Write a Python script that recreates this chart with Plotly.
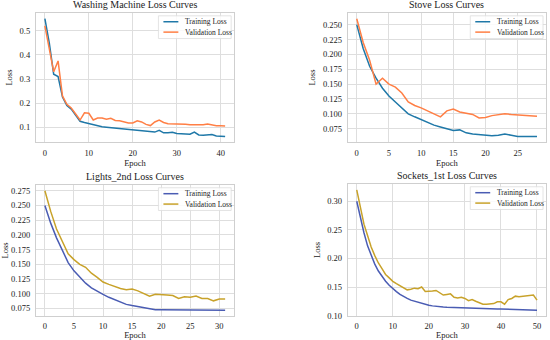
import plotly.graph_objects as go

# ---------------- data ----------------
wm_train = [0.55, 0.45, 0.32, 0.31, 0.225, 0.19, 0.175, 0.15, 0.125, 0.12, 0.115, 0.11, 0.105, 0.102,
            0.10, 0.098, 0.096, 0.094, 0.092, 0.09, 0.088, 0.087, 0.085, 0.083, 0.081, 0.08, 0.087,
            0.077, 0.077, 0.079, 0.074, 0.073, 0.072, 0.071, 0.08, 0.068, 0.067, 0.067, 0.07, 0.064,
            0.063, 0.062]
wm_val = [0.52, 0.43, 0.33, 0.375, 0.23, 0.195, 0.18, 0.155, 0.13, 0.16, 0.158, 0.13, 0.138, 0.138,
          0.133, 0.137, 0.128, 0.127, 0.122, 0.118, 0.118, 0.127, 0.122, 0.112, 0.107, 0.122, 0.13,
          0.12, 0.115, 0.115, 0.115, 0.114, 0.112, 0.11, 0.11, 0.109, 0.11, 0.113, 0.108, 0.106,
          0.106, 0.105]

st_train = [0.25, 0.21, 0.18, 0.16, 0.143, 0.13, 0.12, 0.11, 0.10, 0.095, 0.09, 0.085, 0.081, 0.078,
            0.075, 0.072, 0.073, 0.068, 0.066, 0.065, 0.064, 0.063, 0.064, 0.066, 0.064, 0.062,
            0.062, 0.062, 0.062]
st_val = [0.26, 0.22, 0.19, 0.15, 0.16, 0.15, 0.145, 0.135, 0.12, 0.114, 0.11, 0.105, 0.1, 0.095,
          0.105, 0.108, 0.103, 0.101, 0.099, 0.093, 0.094, 0.097, 0.098, 0.1, 0.099, 0.098, 0.097,
          0.096, 0.096]

li_train = [0.25, 0.22, 0.195, 0.173, 0.153, 0.139, 0.128, 0.118, 0.11, 0.104, 0.099, 0.094, 0.09,
            0.086, 0.082, 0.08, 0.078, 0.076, 0.074, 0.073, 0.073, 0.073, 0.0725, 0.0725, 0.0723,
            0.0722, 0.0721, 0.072, 0.072, 0.072, 0.072, 0.072]
li_val = [0.275, 0.24, 0.21, 0.19, 0.168, 0.158, 0.15, 0.145, 0.135, 0.128, 0.12, 0.116, 0.112,
          0.109, 0.107, 0.108, 0.105, 0.1, 0.096, 0.099, 0.099, 0.098, 0.097, 0.092, 0.095, 0.094,
          0.096, 0.092, 0.092, 0.088, 0.091, 0.091]

so_train = [0.30, 0.27, 0.245, 0.222, 0.205, 0.19, 0.178, 0.168, 0.16, 0.153, 0.147, 0.142, 0.137,
            0.133, 0.13, 0.127, 0.125, 0.123, 0.121, 0.12, 0.118, 0.117, 0.116, 0.1155, 0.115,
            0.1145, 0.1142, 0.114, 0.1138, 0.1136, 0.1134, 0.1132, 0.113, 0.1128, 0.1126, 0.1124,
            0.1122, 0.112, 0.1118, 0.1116, 0.1114, 0.1112, 0.111, 0.1108, 0.1106, 0.1104, 0.1102,
            0.11, 0.1098, 0.1096, 0.1094]
so_val = [0.32, 0.29, 0.26, 0.24, 0.22, 0.205, 0.192, 0.182, 0.172, 0.166, 0.16, 0.156, 0.152,
          0.148, 0.145, 0.146, 0.148, 0.147, 0.15, 0.142, 0.142, 0.143, 0.144, 0.14, 0.136, 0.137,
          0.138, 0.132, 0.131, 0.132, 0.13, 0.126, 0.128, 0.125, 0.122, 0.12, 0.12, 0.12, 0.121,
          0.124, 0.124, 0.12, 0.128, 0.13, 0.134, 0.133, 0.134, 0.134, 0.135, 0.136, 0.127]

titles = ["Washing Machine Loss Curves", "Stove Loss Curves",
          "Lights_2nd Loss Curves", "Sockets_1st Loss Curves"]
series_names = ["Training Loss", "Validation Loss"]

# ---------------- layout ----------------
FONT = "Liberation Serif, Times New Roman, serif"
W, H = 550, 340
panels = [
    dict(tr=wm_train, va=wm_val, colors=["#1f78a8", "#ff7f45"], px=(34, 233), py=(13, 144),
         xt=[0, 10, 20, 30, 40], yt=[0.1, 0.2, 0.3, 0.4, 0.5], yfmt=".1f"),
    dict(tr=st_train, va=st_val, colors=["#1f78a8", "#ff7f45"], px=(347, 546), py=(13, 144),
         xt=[0, 5, 10, 15, 20, 25], yt=[0.075, 0.1, 0.125, 0.15, 0.175, 0.2, 0.225, 0.25], yfmt=".3f"),
    dict(tr=li_train, va=li_val, colors=["#4a5cb3", "#c8a22a"], px=(34, 233), py=(187, 320),
         xt=[0, 5, 10, 15, 20, 25, 30], yt=[0.075, 0.1, 0.125, 0.15, 0.175, 0.2, 0.225, 0.25, 0.275], yfmt=".3f"),
    dict(tr=so_train, va=so_val, colors=["#4a5cb3", "#c8a22a"], px=(347, 546), py=(186, 320),
         xt=[0, 10, 20, 30, 40, 50], yt=[0.1, 0.15, 0.2, 0.25, 0.3], yfmt=".2f"),
]

fig = go.Figure()
layout = dict(width=W, height=H, margin=dict(l=0, r=0, t=0, b=0),
              paper_bgcolor="white", plot_bgcolor="white",
              font=dict(family=FONT, color="#222222", size=8), showlegend=False)
annotations = []

for i, p in enumerate(panels):
    k = "" if i == 0 else str(i + 1)
    xa, ya = "x" + k, "y" + k
    n = len(p["tr"])
    epochs = list(range(n))
    for s, (vals, name) in enumerate(zip([p["tr"], p["va"]], series_names)):
        fig.add_trace(go.Scatter(x=epochs, y=vals, mode="lines", name=name,
                                 line=dict(color=p["colors"][s], width=1.5),
                                 xaxis=xa, yaxis=ya, showlegend=False))
    allv = p["tr"] + p["va"]
    lo, hi = min(allv), max(allv)
    pad = (hi - lo) * 0.05
    xpad = (n - 1) * 0.05
    xd = [p["px"][0] / W, p["px"][1] / W]
    yd = [1 - p["py"][1] / H, 1 - p["py"][0] / H]
    axcommon = dict(showgrid=True, gridcolor="#dedede", gridwidth=1, showline=True,
                    linecolor="#cfcfcf", linewidth=1, mirror=True, zeroline=False,
                    ticks="", tickfont=dict(size=8.5, family=FONT, color="#222222"))
    layout["xaxis" + k] = dict(domain=xd, range=[-xpad, n - 1 + xpad], tickvals=p["xt"],
                               anchor=ya, ticklabelstandoff=2,
                               title=dict(text="Epoch", font=dict(size=8.5, family=FONT), standoff=1),
                               **axcommon)
    layout["yaxis" + k] = dict(domain=yd, range=[lo - pad, hi + pad], tickvals=p["yt"],
                               tickformat=p["yfmt"], anchor=xa, ticklabelstandoff=3,
                               title=dict(text="Loss", font=dict(size=8.5, family=FONT), standoff=5),
                               **axcommon)
    annotations.append(dict(text=titles[i], x=(xd[0] + xd[1]) / 2, y=yd[1], xref="paper", yref="paper",
                            xanchor="center", yanchor="bottom", yshift=1, showarrow=False,
                            font=dict(size=10, family=FONT, color="#222222")))

layout["annotations"] = annotations
fig.update_layout(**layout)

for i, p in enumerate(panels):
    k = "" if i == 0 else str(i + 1)
    xref = ("x" + k) + " domain"
    yref = ("y" + k) + " domain"
    pw = (p["px"][1] - p["px"][0])
    ph = (p["py"][1] - p["py"][0])
    bw, bh = 73 / pw, 23 / ph
    x0, y1 = 1 - 3 / pw - bw, 1 - 3 / ph
    fig.add_shape(type="rect", xref=xref, yref=yref, x0=x0, x1=x0 + bw, y0=y1 - bh, y1=y1,
                  line=dict(color="#dddddd", width=0.8), fillcolor="rgba(255,255,255,0.85)")
    for s, name in enumerate(series_names):
        yy = y1 - (6 + s * 10.5) / ph
        fig.add_shape(type="line", xref=xref, yref=yref, x0=x0 + 5 / pw, x1=x0 + 20 / pw,
                      y0=yy, y1=yy, line=dict(color=p["colors"][s], width=1.5))
        fig.add_annotation(text=name, xref=xref, yref=yref, x=x0 + 25 / pw, y=yy,
                           xanchor="left", yanchor="middle", showarrow=False,
                           font=dict(size=7.5, family=FONT, color="#222222"))

fig.write_html("out.html", config={"displayModeBar": False},
               post_script="document.body.style.margin='0';document.body.style.overflow='hidden';")
